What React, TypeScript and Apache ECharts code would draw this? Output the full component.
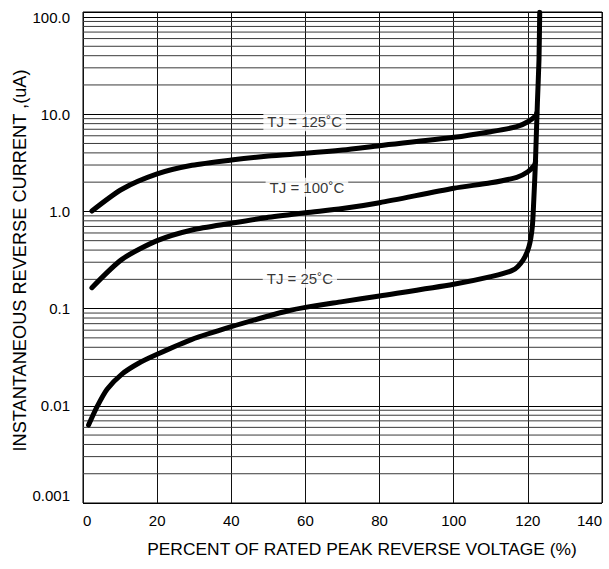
import React, { useEffect, useRef } from "react";
import * as echarts from "echarts";

// ---- data ----
const xMin = 0;
const xMax = 140;
const xInterval = 20;
const yMin = 0.001;
const yMax = 112.6; // top frame lies slightly above the 100 line

const yTickValues = [0.001, 0.01, 0.1, 1, 10, 100];
const yTickLabels = ["0.001", "0.01", "0.1", "1.0", "10.0", "100.0"];

const minorDecades = [0.001, 0.01, 0.1, 1, 10];
const minorMultipliers = [2, 3, 4, 5, 6, 7, 8, 9];

const tj125: [number, number][] = [
  [2.4, 1.01], [10.5, 1.69], [20, 2.43], [29.4, 2.98], [40, 3.38], [50, 3.71],
  [60, 3.96], [70, 4.28], [80, 4.74], [100, 5.78], [110, 6.61], [117, 7.44],
  [120, 8.37], [122.2, 9.7], [122.4, 10.3],
];
const tj100: [number, number][] = [
  [2.4, 0.164], [10.5, 0.321], [20, 0.5], [29.4, 0.644], [40, 0.755], [50, 0.869],
  [60, 0.97], [70, 1.07], [80, 1.23], [100, 1.73], [110, 1.97], [117, 2.24],
  [120, 2.56], [121.8, 3.0], [122.1, 3.3],
];
const tj25: [number, number][] = [
  [1.5, 0.00634], [3.8, 0.0098], [6.5, 0.0148], [10.5, 0.0212], [15, 0.0274],
  [20, 0.0339], [29.4, 0.0483], [40, 0.0652], [50, 0.0839], [55.4, 0.0951],
  [60, 0.103], [70, 0.118], [80, 0.135], [100, 0.178], [110, 0.213], [116, 0.249],
  [118.7, 0.316], [120.3, 0.434], [121.2, 0.696], [121.6, 1.31], [122, 2.88],
  [122.3, 6.36], [122.6, 14.0], [123.0, 36.1], [123.2, 112],
];

const labelPoints: [number, number][] = [
  [59.8, 8.37],
  [60.4, 1.77],
  [58.5, 0.205],
];
const labelTexts = ["TJ = 125˚C", "TJ = 100˚C", "TJ = 25˚C"];

const xTitle = "PERCENT OF RATED PEAK REVERSE VOLTAGE (%)";
const yTitle = "INSTANTANEOUS REVERSE CURRENT ,(uA)";

const FONT = "'Liberation Sans', Arial, Helvetica, sans-serif";

export default function App() {
  const ref = useRef<HTMLDivElement>(null);

  useEffect(() => {
    if (!ref.current) return;
    const chart = echarts.init(ref.current, undefined, { renderer: "svg" });

    const minorValues: number[] = [];
    minorDecades.forEach((d) =>
      minorMultipliers.forEach((m) => minorValues.push(d * m))
    );

    const minorSeries = minorValues.map((v) => ({
      type: "line",
      data: [
        [xMin, v],
        [xMax, v],
      ],
      symbol: "none",
      silent: true,
      z: 1,
      lineStyle: { width: 1, color: "#3a3a3a" },
    }));

    const curve = (data: [number, number][]) => ({
      type: "line",
      data,
      symbol: "none",
      smooth: 0.25,
      silent: true,
      z: 3,
      clip: true,
      lineStyle: { width: 5, color: "#000", cap: "round", join: "round" },
    });

    const option: any = {
      animation: false,
      grid: {
        left: 83,
        right: 7,
        top: 12,
        bottom: 66,
        show: true,
        borderColor: "#000",
        borderWidth: 1,
        backgroundColor: "#fff",
      },
      xAxis: {
        type: "value",
        min: xMin,
        max: xMax,
        interval: xInterval,
        axisLine: { show: false },
        axisTick: { show: false },
        splitLine: { show: true, lineStyle: { color: "#111", width: 1 } },
        axisLabel: {
          fontSize: 15,
          color: "#000",
          fontFamily: FONT,
          margin: 10,
          alignMinLabel: "left",
          alignMaxLabel: "right",
        },
      },
      yAxis: {
        type: "log",
        logBase: 10,
        min: yMin,
        max: yMax,
        axisLine: { show: false },
        axisTick: { show: false },
        splitLine: { show: true, lineStyle: { color: "#000", width: 1 } },
        axisLabel: {
          fontSize: 15,
          color: "#000",
          fontFamily: FONT,
          margin: 13,
          verticalAlignMinLabel: "bottom",
          formatter: (v: number) => {
            const l = Math.log10(v);
            const r = Math.round(l);
            if (Math.abs(l - r) > 1e-6) return "";
            const i = yTickValues.findIndex(
              (t) => Math.abs(Math.log10(t) - r) < 1e-6
            );
            return i >= 0 ? yTickLabels[i] : "";
          },
        },
      },
      graphic: [
        {
          type: "text",
          x: 362,
          y: 549,
          silent: true,
          style: {
            text: xTitle,
            fontSize: 17.4,
            fontFamily: FONT,
            fill: "#000",
            align: "center",
            verticalAlign: "middle",
          },
        },
        {
          type: "text",
          x: 19.5,
          y: 260.5,
          rotation: Math.PI / 2,
          silent: true,
          style: {
            text: yTitle,
            fontSize: 18.2,
            fontFamily: FONT,
            fill: "#000",
            align: "center",
            verticalAlign: "middle",
          },
        },
      ],
      series: [
        ...minorSeries,
        curve(tj125),
        curve(tj100),
        curve(tj25),
        {
          type: "scatter",
          data: labelPoints,
          symbol: "rect",
          symbolSize: 1,
          silent: true,
          z: 5,
          itemStyle: { color: "transparent" },
          label: {
            show: true,
            position: "inside",
            formatter: (p: any) => labelTexts[p.dataIndex],
            backgroundColor: "#fff",
            padding: [2, 4],
            fontSize: 15,
            fontFamily: FONT,
            color: "#000",
          },
        },
      ],
    };

    chart.setOption(option);
    return () => chart.dispose();
  }, []);

  return (
    <div
      ref={ref}
      style={{ position: "absolute", left: 0, top: 0, width: 609, height: 569 }}
    />
  );
}
